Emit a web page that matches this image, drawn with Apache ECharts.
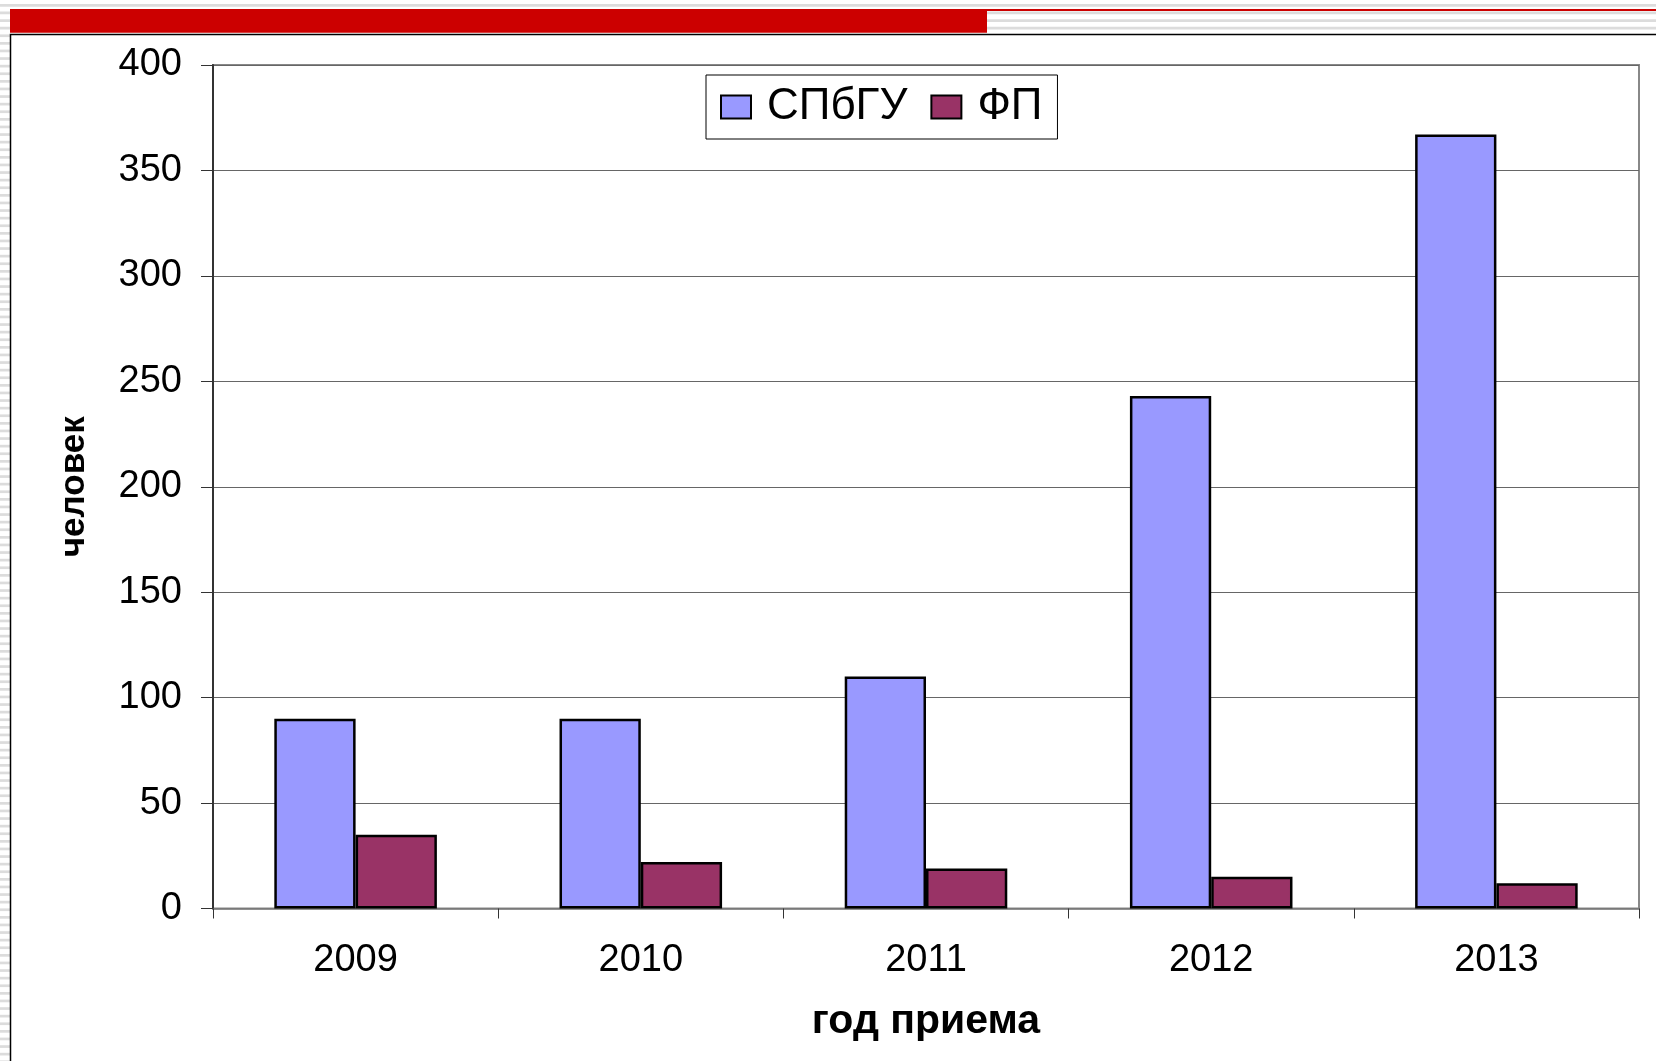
<!DOCTYPE html>
<html>
<head>
<meta charset="utf-8">
<script src="https://cdn.jsdelivr.net/npm/echarts@6/dist/echarts.min.js"></script>
<style>
html,body{margin:0;padding:0;background:#fff;}
#main{width:1656px;height:1061px;}
</style>
</head>
<body>
<div id="main"></div>
<script>
// ---- data ----
var years = ['2009', '2010', '2011', '2012', '2013'];
var spbguValues = [90, 90, 110, 243, 367];
var fpValues = [35, 22, 19, 15, 12];
var seriesNames = ['СПбГУ', 'ФП'];
var xAxisTitle = 'год приема';
var yAxisTitle = 'человек';
var yMin = 0, yMax = 400, yStep = 50;

// ---- decorative slide background ----
var FONT = '"Liberation Sans", Arial, sans-serif';
var deco = [];
for (var y = 4; y < 1061; y += 7.6) {
  if (y < 34) {
    deco.push({type: 'rect', z: -20, silent: true,
      shape: {x: 0, y: y, width: 1656, height: 2.7}, style: {fill: '#dcdcdc'}});
  } else {
    deco.push({type: 'rect', z: -20, silent: true,
      shape: {x: 0, y: y, width: 10, height: 2.7}, style: {fill: '#dcdcdc'}});
  }
}
deco.push({type: 'rect', z: -15, silent: true,
  shape: {x: 10, y: 9, width: 977, height: 23.7}, style: {fill: '#cc0000'}});
deco.push({type: 'rect', z: -15, silent: true,
  shape: {x: 987, y: 9, width: 669, height: 2}, style: {fill: '#cc0000'}});
deco.push({type: 'rect', z: -15, silent: true,
  shape: {x: 10.5, y: 34.5, width: 1660, height: 1040},
  style: {fill: '#ffffff', stroke: '#000000', lineWidth: 1.5}});

var chart = echarts.init(document.getElementById('main'), null, {renderer: 'canvas'});
chart.setOption({
  backgroundColor: 'transparent',
  animation: false,
  textStyle: {fontFamily: FONT, color: '#000'},
  graphic: deco,
  grid: {left: 213, right: 17, top: 65, bottom: 152.5, show: true,
    borderColor: '#888', borderWidth: 2, backgroundColor: 'transparent'},
  legend: {
    data: seriesNames,
    left: 706, top: 75,
    padding: [10, 15, 10, 14],
    itemGap: 23,
    icon: 'rect',
    itemWidth: 30, itemHeight: 23,
    borderColor: '#000', borderWidth: 1,
    backgroundColor: '#fff',
    itemStyle: {borderColor: '#000', borderWidth: 2},
    textStyle: {fontSize: 44, fontFamily: FONT, color: '#000', padding: [0, 0, 0, 11]}
  },
  xAxis: {
    type: 'category',
    data: years,
    name: xAxisTitle,
    nameLocation: 'middle',
    nameGap: 93,
    nameTextStyle: {fontSize: 41, fontWeight: 'bold', fontFamily: FONT, color: '#000'},
    axisLine: {show: true, lineStyle: {color: '#808080', width: 1.5}},
    axisTick: {show: true, length: 10, lineStyle: {color: '#333', width: 1}},
    axisLabel: {fontSize: 38, color: '#000', margin: 33, fontFamily: FONT},
    splitLine: {show: false}
  },
  yAxis: {
    type: 'value',
    min: yMin, max: yMax, interval: yStep,
    name: yAxisTitle,
    nameLocation: 'middle',
    nameGap: 121,
    nameTextStyle: {fontSize: 35, fontWeight: 'bold', fontFamily: FONT, color: '#000'},
    axisLine: {show: true, lineStyle: {color: '#333', width: 2}},
    axisTick: {show: true, length: 12, lineStyle: {color: '#333', width: 1}},
    axisLabel: {fontSize: 38, color: '#000', margin: 31, fontFamily: FONT},
    splitLine: {show: true, lineStyle: {color: '#666', width: 1.2}}
  },
  series: [
    {name: seriesNames[0], type: 'bar', data: spbguValues,
      barGap: '0%', barCategoryGap: '43%',
      itemStyle: {color: '#9999FF', borderColor: '#000', borderWidth: 2.5}},
    {name: seriesNames[1], type: 'bar', data: fpValues,
      barGap: '0%', barCategoryGap: '43%',
      itemStyle: {color: '#993366', borderColor: '#000', borderWidth: 2.5}}
  ]
});
</script>
</body>
</html>
